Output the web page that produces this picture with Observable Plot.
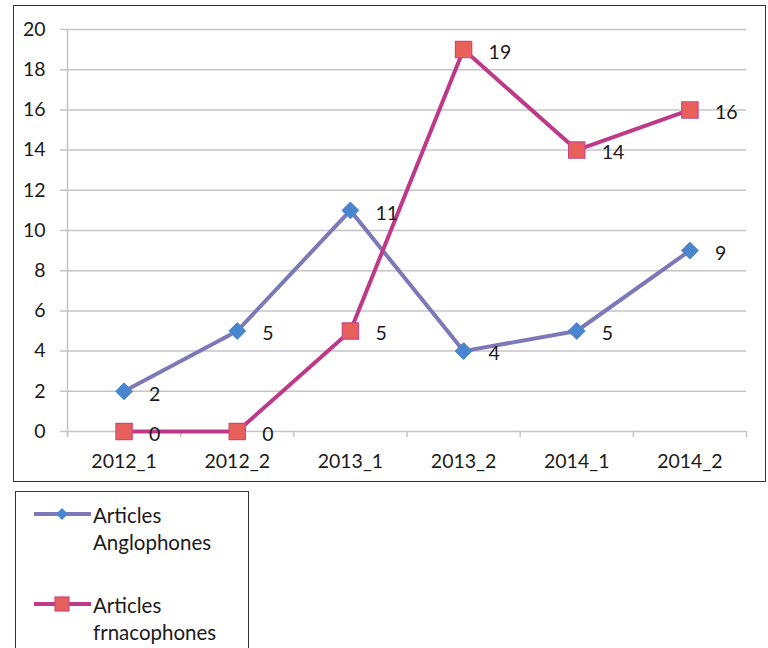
<!DOCTYPE html>
<html><head><meta charset="utf-8">
<script src="https://cdn.jsdelivr.net/npm/d3@7"></script>
<script src="https://cdn.jsdelivr.net/npm/@observablehq/plot@0.6"></script>
<style>
body{margin:0;background:#fff;}
#wrap{position:relative;width:768px;height:648px;overflow:hidden;font-family:Lato,"Open Sans",sans-serif;color:#1a1a1a}
#chart{position:absolute;left:0;top:0}
#frame{position:absolute;left:13px;top:5px;width:751px;height:475px;border:1.5px solid #333;pointer-events:none}
#legend{position:absolute;left:15px;top:491px;width:232px;height:220px;border:1.5px solid #333}
.lg{position:absolute;left:0;top:0}
.lt{position:absolute;left:77px;font-size:20.5px;line-height:27px;white-space:nowrap}
</style>
</head><body>
<div id="wrap">
<div id="chart"></div>
<div id="frame"></div>
<div id="legend"></div>
</div>
<script>
const categories = ["2012_1","2012_2","2013_1","2013_2","2014_1","2014_2"];
const anglophones = [2,5,11,4,5,9];
const francophones = [0,0,5,19,14,16];
const yTicks = [0,2,4,6,8,10,12,14,16,18,20];
const seriesNames = [["Articles","Anglophones"],["Articles","frnacophones"]];

const colA = {line:"#7d78b8", fill:"#4a86cf", stroke:"#4a86cf"};
const colF = {line:"#be3a88", fill:"#e8605a", stroke:"#c9488a"};

const idx = categories.map((c,i)=>i);
const bounds = d3.range(-0.5, categories.length, 1);
const rowsA = categories.map((c,i)=>({i, c, v: anglophones[i]}));
const rowsF = categories.map((c,i)=>({i, c, v: francophones[i]}));

const grid = "#c4c4c4";
const fs = 19.5;
const chart = Plot.plot({
  width:768, height:490,
  marginLeft:67, marginRight:22, marginTop:29, marginBottom:59,
  x:{domain:[-0.5, categories.length-0.5], axis:null, label:null},
  y:{domain:[0,20], axis:null, label:null},
  style:{fontFamily:"Lato, 'Open Sans', sans-serif", fontSize:fs+"px", color:"#1a1a1a", background:"transparent", overflow:"visible"},
  marks:[
    Plot.ruleY(yTicks,{stroke:grid, strokeWidth:1.5, insetLeft:-7}),
    Plot.ruleX([-0.5],{stroke:grid, strokeWidth:1.5, insetBottom:-6}),
    Plot.axisX(bounds,{tickSize:6, stroke:grid, strokeWidth:1.5, tickFormat:()=>"", label:null}),
    Plot.axisX(idx,{tickSize:0, tickPadding:23, tickFormat:i=>categories[i], fontSize:fs, label:null}),
    Plot.axisY(yTicks,{tickSize:0, tickPadding:22, fontSize:fs, label:null}),
    Plot.line(rowsA,{x:"i", y:"v", stroke:colA.line, strokeWidth:4}),
    Plot.dot(rowsA,{x:"i", y:"v", symbol:"diamond2", r:7.6, fill:colA.fill, stroke:colA.stroke, strokeWidth:1}),
    Plot.line(rowsF,{x:"i", y:"v", stroke:colF.line, strokeWidth:4}),
    Plot.dot(rowsF,{x:"i", y:"v", symbol:"square", r:9.2, fill:colF.fill, stroke:colF.stroke, strokeWidth:1.2}),
    Plot.text(rowsA,{x:"i", y:"v", text:"v", textAnchor:"start", dx:25, dy:3, fontSize:fs}),
    Plot.text(rowsF,{x:"i", y:"v", text:"v", textAnchor:"start", dx:25, dy:3, fontSize:fs})
  ]
});
document.getElementById("chart").appendChild(chart);

// legend
const lg = document.getElementById("legend");
const entries = [
  {name:seriesNames[0], col:colA, sym:"diamond", y:22},
  {name:seriesNames[1], col:colF, sym:"square", y:112}
];
let svg = `<svg class="lg" width="80" height="200" xmlns="http://www.w3.org/2000/svg">`;
for (const e of entries) {
  svg += `<line x1="18" x2="75" y1="${e.y}" y2="${e.y}" stroke="${e.col.line}" stroke-width="4"/>`;
  if (e.sym==="diamond") svg += `<path d="M46,${e.y-6}L52,${e.y}L46,${e.y+6}L40,${e.y}Z" fill="${e.col.fill}"/>`;
  else svg += `<rect x="39" y="${e.y-7}" width="14" height="14" fill="${e.col.fill}" stroke="${e.col.stroke}" stroke-width="1.2"/>`;
}
svg += `</svg>`;
let html = svg;
for (const e of entries) {
  html += `<div class="lt" style="top:${e.y-12}px">${e.name[0]}<br>${e.name[1]}</div>`;
}
lg.innerHTML = html;
</script>
</body></html>
